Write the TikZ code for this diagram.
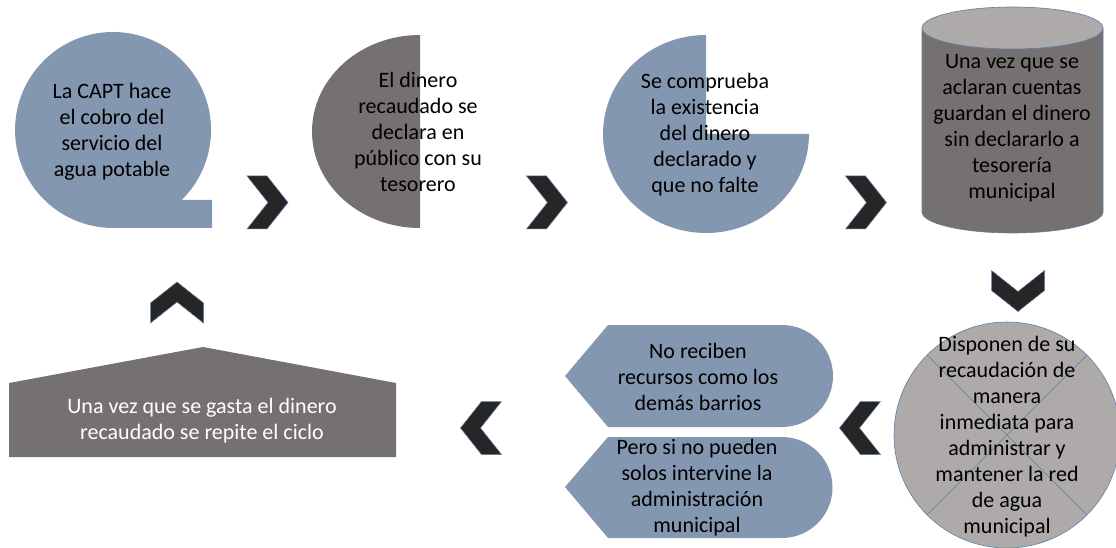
\documentclass[tikz,border=0pt]{standalone}
\usepackage{fontspec}
\setmainfont{Carlito}
\definecolor{bluegrey}{HTML}{8497B0}
\definecolor{darkgrey}{HTML}{767171}
\definecolor{lightgrey}{HTML}{AEAAAA}
\definecolor{chevfill}{HTML}{262626}
\definecolor{outl}{HTML}{5B7FA8}
\begin{document}
\begin{tikzpicture}[x=1pt,y=1pt,
  txt/.style={align=center, font=\fontsize{22}{26}\selectfont, inner sep=0pt, text=black},
  chevron/.pic={\filldraw[fill=chevfill, draw=outl, line width=0.5pt]
     (-20.5,26.5) -- (-0.5,26.5) -- (20.5,0) -- (-0.5,-26.5) -- (-20.5,-26.5) -- (0.5,0) -- cycle;},
  outline/.style={draw=outl, line width=0.6pt}]
\useasboundingbox (0,0) rectangle (1116,547);
% shape 1: callout circle
\fill[bluegrey] (113,319) -- (212,319) -- (212,347) -- (181.6,347)
   arc[start angle=-45.6, end angle=270, radius=98] -- cycle;
\node[txt] (n1) at (112,415) {La CAPT hace\\el cobro del\\servicio del\\agua potable};
% shape 2: half disc
\fill[darkgrey] (420,512) arc[start angle=90, end angle=270, x radius=108, y radius=96.5] -- cycle;
\node[txt] (n2) at (418,415) {El dinero\\recaudado se\\declara en\\público con su\\tesorero};
% shape 3: pie
\fill[bluegrey] (706,413) -- (809,413) arc[start angle=0, end angle=-270, x radius=103, y radius=99] -- cycle;
\node[txt] (n3) at (705,412) {Se comprueba\\la existencia\\del dinero\\declarado y\\que no falte};
% shape 4: cylinder
\filldraw[fill=darkgrey, outline] (922,519) -- (922,335)
   arc[start angle=180, end angle=360, x radius=90.5, y radius=21] -- (1103,519) -- cycle;
\filldraw[fill=lightgrey, outline] (1012.5,519) ellipse[x radius=90.5, y radius=21];
\node[txt] (n4) at (1012,419) {Una vez que se\\aclaran cuentas\\guardan el dinero\\sin declararlo a\\tesorería\\municipal};
% shape 5: crossed circle
\filldraw[fill=lightgrey, outline] (1007,112) circle[radius=113];
\draw[outline] (1007,112) +(135:113) -- +(-45:113);
\draw[outline] (1007,112) +(45:113) -- +(225:113);
\node[txt] (n5) at (1007,110) {Disponen de su\\recaudación de\\manera\\inmediata para\\administrar y\\mantener la red\\de agua\\municipal};
% shapes 6,7: left-pointing tabs
\fill[bluegrey] (565,171) -- (608,222) -- (782,222) arc[start angle=90, end angle=-90, radius=51] -- (608,120) -- cycle;
\node[txt] (n6) at (698,170) {No reciben\\recursos como los\\demás barrios};
\fill[bluegrey] (565,60) -- (608,110) -- (782,110) arc[start angle=90, end angle=-90, radius=50.5] -- (608,9) -- cycle;
\node[txt] (n7) at (697,59) {Pero si no pueden\\solos intervine la\\administración\\municipal};
% shape 8: house
\fill[darkgrey] (9,90) -- (9,164) -- (203,200) -- (396,164) -- (396,90) -- cycle;
\node[txt, text=white] (n8) at (202,126) {Una vez que se gasta el dinero\\recaudado se repite el ciclo};
% chevrons
\pic at (267.5,344.5) {chevron};
\pic at (547,344.5) {chevron};
\pic at (866,344.5) {chevron};
\pic[rotate=-90] at (1018,256) {chevron};
\pic[rotate=180] at (860,119) {chevron};
\pic[rotate=180] at (481,119) {chevron};
\pic[rotate=90] at (177,244.5) {chevron};
\end{tikzpicture}
\end{document}
